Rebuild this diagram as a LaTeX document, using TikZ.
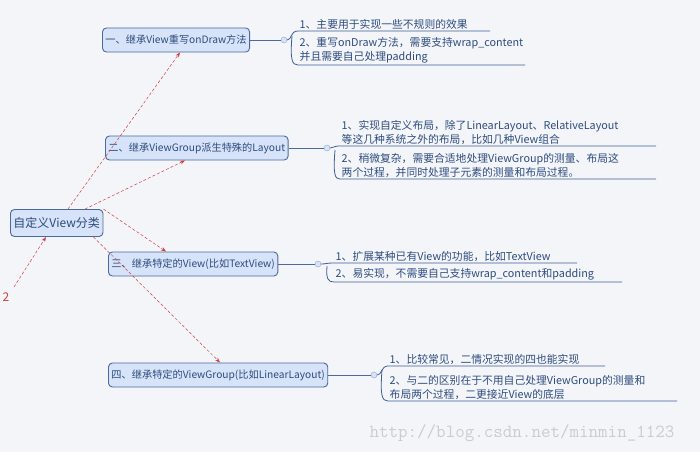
\documentclass[tikz,border=0pt]{standalone}
\usepackage{fontspec}
\setmainfont{Noto Sans CJK SC}
\usetikzlibrary{arrows.meta}
\definecolor{bg}{HTML}{F3F5F9}
\definecolor{nfill}{HTML}{D6E3F8}
\definecolor{nline}{HTML}{4A6A9E}
\definecolor{ntext}{HTML}{2E4C7E}
\definecolor{lline}{HTML}{3C5E96}
\definecolor{arr}{HTML}{D04040}
\tikzset{
 topic/.style={draw=nline,line width=0.9pt,fill=nfill,rounded corners=4pt,text=ntext,font=\fontsize{10.2}{12}\selectfont,inner sep=3pt,minimum height=24pt,anchor=west},
 leaf/.style={text=ntext,font=\fontsize{10.8}{14}\selectfont,anchor=south west,align=left,inner sep=1.5pt},
 uline/.style={draw=lline,line width=0.8pt},
 rel/.style={draw=arr,densely dashed,line width=0.5pt,-{Stealth[length=5pt]}},
 knob/.style={circle,draw=nline!60,fill=nfill,minimum size=6pt,inner sep=0pt},
}
\begin{document}
\begin{tikzpicture}[x=1pt,y=-1pt]
\fill[bg] (0,0) rectangle (700,452);
\useasboundingbox (0,0) rectangle (700,452);
\node[topic,minimum height=27pt,font=\fontsize{12}{14}\selectfont] (root) at (10,223) {自定义View分类};
\node[topic] (n1) at (102,40) {一、继承View重写onDraw方法};
\node[topic] (n2) at (105,148) {二、继承ViewGroup派生特殊的Layout};
\node[topic] (n3) at (108,264) {三、继承特定的View(比如TextView)};
\node[topic] (n4) at (108,375) {四、继承特定的ViewGroup(比如LinearLayout)};
\draw[rel] ([xshift=58pt]root.north west) -- ([xshift=78pt]n1.south west);
\draw[rel] ([xshift=75pt]root.north west) -- ([xshift=80pt]n2.south west);
\draw[rel] (root.north east) -- ([xshift=58pt]n3.north west);
\draw[rel] ([xshift=-10pt]root.south east) -- ([xshift=112pt]n4.north west);
\node[text=arr,font=\fontsize{12}{12}\selectfont] (two) at (6,297) {2};
\coordinate (tw) at (14,287);
\draw[rel] (tw) -- ([xshift=36pt]root.south west);
% branch 1
\node[knob] (k1) at (284,40) {};
\draw[nline] (n1.east) -- (k1);
\node[leaf] (l11) at (298,31) {1、主要用于实现一些不规则的效果};
\node[leaf] (l12) at (298,65) {2、重写onDraw方法，需要支持wrap\_content\\并且需要自己处理padding};
\draw[uline] (k1.east) .. controls (292,40) and (290,31) .. (298,31) -- (490,31);
\draw[uline] (292,36) .. controls (290,60) and (292,65) .. (298,65) -- (525,65);
% branch 2
\node[knob] (k2) at (327,148) {};
\draw[nline] (n2.east) -- (k2);
\node[leaf] (l21) at (340,146) {1、实现自定义布局，除了LinearLayout、RelativeLayout\\等这几种系统之外的布局，比如几种View组合};
\node[leaf] (l22) at (340,179) {2、稍微复杂，需要合适地处理ViewGroup的测量、布局这\\两个过程，并同时处理子元素的测量和布局过程。};
\draw[uline] (k2.east) .. controls (334,148) and (333,146) .. (340,146) -- (656,146);
\draw[uline] (335,150) .. controls (333,175) and (335,179) .. (340,179) -- (656,179);
% branch 3
\node[knob] (k3) at (318,264) {};
\draw[nline] (n3.east) -- (k3);
\node[leaf] (l31) at (334,263) {1、扩展某种已有View的功能，比如TextView};
\node[leaf] (l32) at (334,282) {2、易实现，不需要自己支持wrap\_content和padding};
\draw[uline] (k3.east) .. controls (326,264) and (326,263) .. (334,263) -- (577,263);
\draw[uline] (327,266) .. controls (326,279) and (328,282) .. (334,282) -- (622,282);
% branch 4
\node[knob] (k4) at (374,375) {};
\draw[nline] (n4.east) -- (k4);
\node[leaf] (l41) at (388,366) {1、比较常见，二情况实现的四也能实现};
\node[leaf] (l42) at (388,401) {2、与二的区别在于不用自己处理ViewGroup的测量和\\布局两个过程，二更接近View的底层};
\draw[uline] (k4.east) .. controls (382,375) and (381,366) .. (388,366) -- (605,366);
\draw[uline] (382,370) .. controls (380,396) and (382,401) .. (388,401) -- (677,401);
\node[text=gray!40,font=\ttfamily\fontsize{18.5}{18}\selectfont,anchor=west] (wm) at (366,433) {http://blog.csdn.net/minmin\_1123};
\end{tikzpicture}
\end{document}
